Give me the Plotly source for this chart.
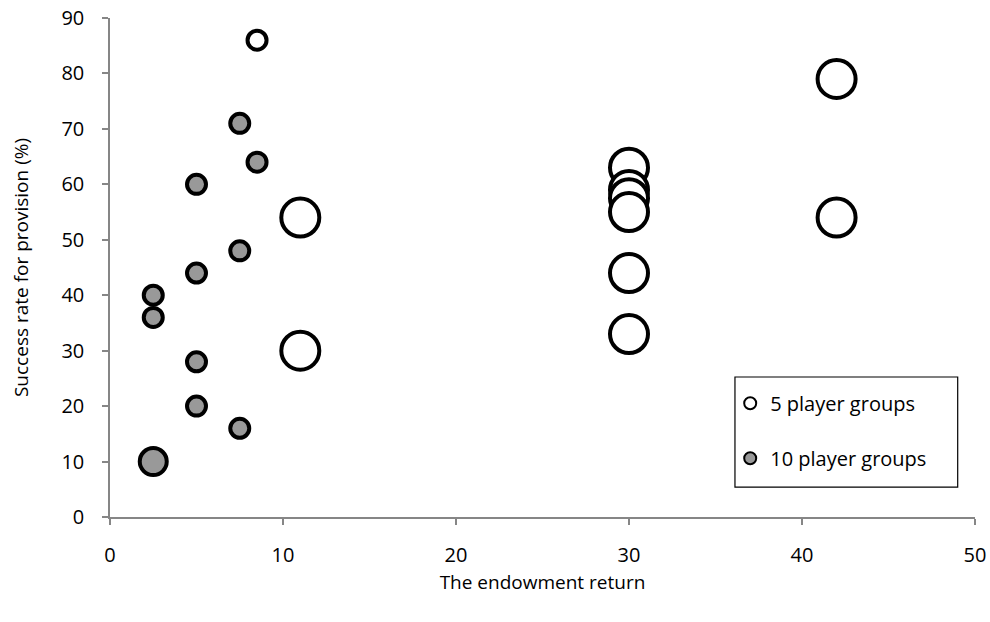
import plotly.graph_objects as go

# 5 player groups
x5 = [8.5, 11, 11, 30, 30, 30, 30, 30, 30, 42, 42]
y5 = [86, 54, 30, 63, 59, 57.5, 55, 44, 33, 79, 54]
s5 = [19, 38, 38, 38, 38, 38, 38, 38, 38, 38, 38]

# 10 player groups
x10 = [2.5, 2.5, 2.5, 5, 5, 5, 5, 7.5, 7.5, 7.5, 8.5]
y10 = [40, 36, 10, 60, 44, 28, 20, 71, 48, 16, 64]
s10 = [19, 19, 27, 19, 19, 19, 19, 19, 19, 19, 19]

FONT = "Open Sans"
AX = "#868686"

fig = go.Figure()
fig.add_trace(go.Scatter(
    x=x5, y=y5, mode="markers", name="5 player groups", legendgroup="a",
    marker=dict(size=s5, color="white", opacity=1, line=dict(color="black", width=4)),
))
fig.add_trace(go.Scatter(
    x=x10, y=y10, mode="markers", name="10 player groups", legendgroup="b",
    marker=dict(size=s10, color="#999999", opacity=1, line=dict(color="black", width=4)),
))

# legend frame
fig.add_shape(type="rect", xref="paper", yref="paper",
              x0=0.7225, x1=0.980, y0=0.060, y1=0.2806,
              line=dict(color="black", width=1.2), fillcolor="white", layer="below")

fig.update_layout(
    width=990, height=622,
    margin=dict(l=110, r=15, t=18, b=105, autoexpand=False),
    paper_bgcolor="white", plot_bgcolor="white",
    font=dict(family=FONT, size=19, color="black"),
    showlegend=True,
    legend=dict(
        x=0.717, y=0.267, xanchor="left", yanchor="top",
        borderwidth=0, bgcolor="rgba(0,0,0,0)",
        font=dict(family=FONT, size=20, color="black"),
        itemsizing="constant", itemwidth=30, tracegroupgap=26,
    ),
    xaxis=dict(
        range=[0, 50], tickvals=[0, 10, 20, 30, 40, 50], automargin=False,
        tickfont=dict(family=FONT, size=20), ticklabeloverflow="allow",
        showgrid=False, zeroline=False, showline=True, linecolor=AX, linewidth=1.5,
        ticks="outside", ticklen=6, tickcolor=AX, tickwidth=1.5, ticklabelstandoff=13,
        title=dict(text="The endowment return", font=dict(family=FONT, size=19), standoff=9),
    ),
    yaxis=dict(
        range=[0, 90], tickvals=list(range(0, 100, 10)), automargin=False,
        tickfont=dict(family=FONT, size=20), ticklabeloverflow="allow",
        showgrid=False, zeroline=False, showline=True, linecolor=AX, linewidth=1.5,
        ticks="outside", ticklen=6, tickcolor=AX, tickwidth=1.5, ticklabelstandoff=14,
        title=dict(text="Success rate for provision (%)", font=dict(family=FONT, size=19), standoff=28),
    ),
)

fig.write_html("out.html", config={"displayModeBar": False},
               post_script="document.body.style.margin='0px';")
